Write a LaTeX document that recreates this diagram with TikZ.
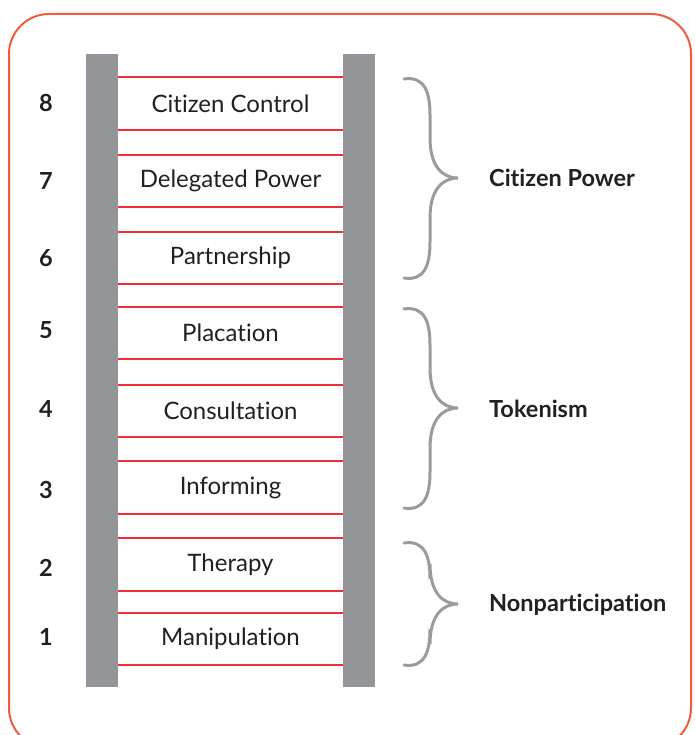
\documentclass[tikz,border=0pt]{standalone}
\usepackage{fontspec}
\setmainfont{Lato}[Ligatures={NoCommon,NoDiscretionary,NoContextual}]
\definecolor{frameor}{HTML}{F15A3C}
\definecolor{railgray}{HTML}{939598}
\definecolor{rungred}{HTML}{EE2E38}
\definecolor{bracegray}{HTML}{9A9B9E}
\definecolor{inkdark}{HTML}{231F20}
\begin{document}
\begin{tikzpicture}[x=1pt,y=-1pt,
  frame/.style={draw=frameor,line width=2pt,rounded corners=40pt},
  rail/.style={fill=railgray,draw=none},
  rung/.style={draw=rungred,line width=1.2pt},
  rungtext/.style={font=\fontsize{24}{28}\selectfont,text=inkdark,inner sep=0pt},
  numtext/.style={font=\bfseries\fontsize{23.5}{28}\selectfont,text=inkdark,inner sep=0pt},
  grouptext/.style={font=\bfseries\fontsize{23.5}{28}\selectfont,text=inkdark,inner sep=0pt,anchor=west},
  bracestyle/.style={draw=bracegray,line width=3pt,line cap=round}]
\useasboundingbox (0,0) rectangle (694,735);
\begin{scope}
\clip (0,0) rectangle (694,735);
\draw[frame] (9,14) rectangle (691,748);
\end{scope}
% rails
\fill[rail] (86,54) rectangle (118,687);
\fill[rail] (343,54) rectangle (375,687);
% rungs and labels
\foreach \a/\b/\t/\n in {77/130/Citizen Control/r8,155/207/Delegated Power/r7,232/284/Partnership/r6,307/359/Placation/r5,385/437/Consultation/r4,461/514/Informing/r3,538/591/Therapy/r2,613/665/Manipulation/r1}{
  \coordinate (\n tl) at (118,\a);
  \coordinate (\n tr) at (343,\a);
  \coordinate (\n bl) at (118,\b);
  \coordinate (\n br) at (343,\b);
  \draw[rung] (\n tl) -- (\n tr);
  \draw[rung] (\n bl) -- (\n br);
  \node[rungtext] (\n) at (230.5,{(\a+\b)/2}) {\t};
}
% numbers
\foreach \y/\k in {103/8,181/7,258/6,330/5,409/4,490/3,568/2,637/1}{
  \node[numtext] (num\k) at (46,\y) {\k};
}
% braces
\foreach \top/\mid/\bot/\nm in {79/178/278/bcp,309/408/508/btk,543/604/665/bnp}{
  \coordinate (\nm top) at (404,\top);
  \coordinate (\nm tip) at (458,\mid);
  \coordinate (\nm bot) at (404,\bot);
  \draw[bracestyle] (\nm top) .. controls (424,{\top-3}) and (430,{\top+12}) .. (430,{\top+36})
     -- (430,{\mid-40}) .. controls (430,{\mid-12}) and (442,\mid) .. (\nm tip)
     .. controls (442,\mid) and (430,{\mid+12}) .. (430,{\mid+40})
     -- (430,{\bot-36}) .. controls (430,{\bot-12}) and (424,{\bot+3}) .. (\nm bot);
}
\node[grouptext] (gcp) at (489,178) {Citizen Power};
\node[grouptext] (gtk) at (489,409) {Tokenism};
\node[grouptext] (gnp) at (489,605) {Nonparticipation};
\end{tikzpicture}
\end{document}
